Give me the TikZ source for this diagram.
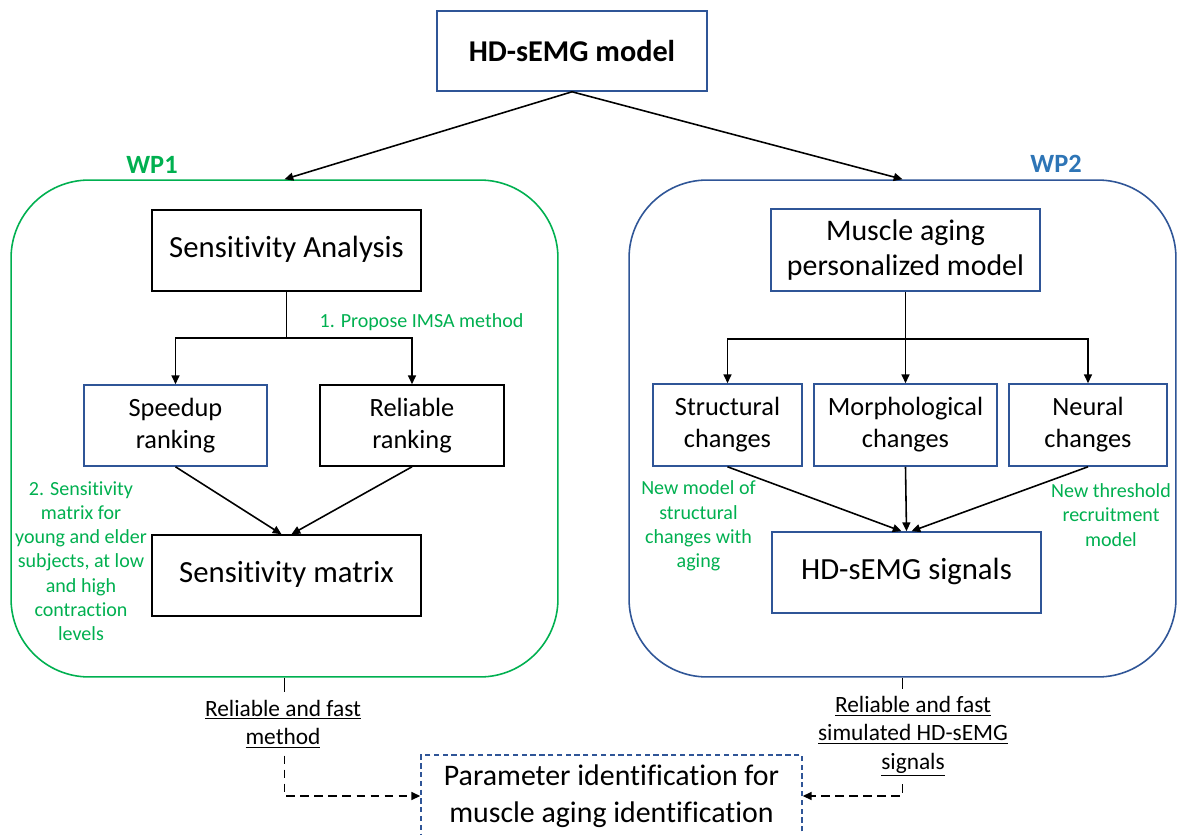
\documentclass[tikz,border=0pt]{standalone}
\usepackage{fontspec}
\setmainfont{Carlito}[Ligatures=NoCommon]
\usetikzlibrary{arrows.meta}
\definecolor{cgreen}{HTML}{00B050}
\definecolor{cblue}{HTML}{2F5597}
\definecolor{cwp}{HTML}{2E75B6}
\begin{document}
\begin{tikzpicture}[x=0.02cm,y=-0.02cm,
  every node/.style={inner sep=0pt},
  boxbase/.style={draw, line width=0.9pt, align=center, fill=white},
  blackbox/.style={boxbase, draw=black},
  bluebox/.style={boxbase, draw=cblue},
  bigtxt/.style={font=\fontsize{17.5}{21}\selectfont},
  midtxt/.style={font=\fontsize{15}{18.2}\selectfont},
  greennote/.style={text=cgreen, align=center, font=\fontsize{11.4}{13.8}\selectfont},
  outlbl/.style={align=center, inner sep=4pt, font=\fontsize{13.3}{16.2}\selectfont},
  wpbox/.style={draw, line width=0.9pt, rounded corners=1.56cm, minimum width=10.94cm, minimum height=9.94cm},
  arr/.style={line width=0.9pt, -{Triangle[length=5pt,width=4.5pt]}},
  plain/.style={line width=0.9pt},
  dasharr/.style={line width=0.9pt, dash pattern=on 5pt off 3pt, -{Triangle[length=5pt,width=4.5pt]}}
]
\clip (0,0) rectangle (1177,835);
\fill[white] (0,0) rectangle (1177,835);

% work package frames
\node[wpbox, draw=cgreen] (wp1) at (284.5,428.5) {};
\node[wpbox, draw=cblue] (wp2) at (902.5,428.5) {};
\node[text=cgreen, font=\fontsize{15}{18}\selectfont\bfseries] (wp1lbl) at (152,165) {WP1};
\node[text=cwp, font=\fontsize{15}{18}\selectfont\bfseries] (wp2lbl) at (1056,164) {WP2};

% top model
\node[bluebox, minimum width=5.4cm, minimum height=1.6cm, font=\fontsize{17.2}{21}\selectfont\bfseries] (top) at (572,51) {HD-sEMG model};

% WP1 content
\node[blackbox, bigtxt, minimum width=5.38cm, minimum height=1.62cm] (sa) at (286.5,250.5) {Sensitivity Analysis\strut};
\node[bluebox, midtxt, minimum width=3.66cm, minimum height=1.62cm] (sp) at (175.5,425.5) {Speedup\\ranking};
\node[blackbox, midtxt, minimum width=3.68cm, minimum height=1.62cm] (rr) at (412,425.5) {Reliable\\ranking};
\node[blackbox, bigtxt, minimum width=5.38cm, minimum height=1.62cm] (sm) at (286.5,575.5) {Sensitivity matrix\strut};
\node[greennote] (n1) at (421.5,322) {1. Propose IMSA method};
\node[greennote] (n2) at (81,561) {2. Sensitivity\\matrix for\\young and elder\\subjects, at low\\and high\\contraction\\levels};

% WP2 content
\node[bluebox, font=\fontsize{17}{20.4}\selectfont, minimum width=5.38cm, minimum height=1.64cm] (ma) at (905.5,250) {Muscle aging\\personalized model};
\node[bluebox, midtxt, minimum width=2.98cm, minimum height=1.64cm] (sc) at (727.5,425) {Structural\\changes};
\node[bluebox, midtxt, minimum width=3.66cm, minimum height=1.64cm] (mc) at (905.5,425) {Morphological\\changes};
\node[bluebox, midtxt, minimum width=3.16cm, minimum height=1.64cm] (nc) at (1088,425) {Neural\\changes};
\node[bluebox, bigtxt, minimum width=5.38cm, minimum height=1.62cm] (hs) at (906.5,572.5) {HD-sEMG signals\strut};
\node[greennote] (n3) at (698.5,526) {New model of\\structural\\changes with\\aging};
\node[greennote] (n4) at (1111,515) {New threshold\\recruitment\\model};

% bottom
\node[outlbl] (lbl1) at (283,724) {\underline{Reliable and fast}\\\underline{method}};
\node[outlbl] (lbl2) at (913,736.5) {\underline{Reliable and fast}\\\underline{simulated HD-sEMG}\\\underline{signals}};
\node[boxbase, draw=cblue, dash pattern=on 3pt off 2pt, font=\fontsize{17}{21}\selectfont, minimum width=7.62cm, minimum height=1.64cm] (param) at (611.5,796) {Parameter identification for\\muscle aging identification};

% connectors
\draw[arr] (top.south) -- (wp1.north);
\draw[arr] (top.south) -- (wp2.north);

\draw[plain] (sa.south) -- ++(0,46) coordinate (b1);
\draw[arr] (b1) -| (sp.north);
\draw[arr] (b1) -| (rr.north);
\draw[arr] (sp.south) -- ([xshift=-0.1cm]sm.north);
\draw[arr] (rr.south) -- ([xshift=0.1cm]sm.north);

\draw[plain] (ma.south) -- ++(0,47) coordinate (b2);
\draw[arr] (b2) -| (sc.north);
\draw[arr] (b2) -| (mc.north);
\draw[arr] (b2) -| (nc.north);
\draw[arr] (sc.south) -- ([xshift=-0.1cm]hs.north);
\draw[arr] (mc.south) -- (hs.north);
\draw[arr] (nc.south) -- ([xshift=0.1cm]hs.north);

\draw[plain] (wp1.south) -- (wp1.south |- lbl1.north);
\draw[dasharr] (wp1.south |- lbl1.south) |- (param.west);
\draw[plain] (wp2.south) -- (wp2.south |- lbl2.north);
\draw[dasharr] (wp2.south |- lbl2.south) |- (param.east);
\end{tikzpicture}
\end{document}
